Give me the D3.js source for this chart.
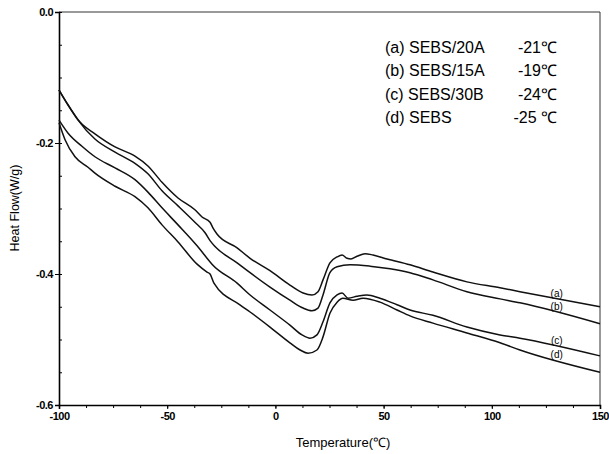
<!DOCTYPE html>
<meta charset="utf-8">
<script src="https://d3js.org/d3.v7.min.js"></script>
<style>
  body { margin: 0; background: #fff; }
  text { font-family: "Liberation Sans", Arial, sans-serif; }
</style>
<body>
<div id="my_dataviz"></div>
<script>
// DSC curves: [temperature (C), heat flow (W/g)]
const curveA = [[-100,-0.119],[-95.8,-0.142],[-90.3,-0.168],[-83.4,-0.186],[-74.1,-0.206],[-64.9,-0.220],
  [-58.9,-0.235],[-52.4,-0.260],[-45.0,-0.284],[-37.2,-0.302],[-33.9,-0.313],[-30.2,-0.321],[-28.8,-0.330],
  [-27.0,-0.339],[-17.7,-0.360],[-11.7,-0.376],[-2.5,-0.395],[6.7,-0.417],[12.8,-0.429],[16.9,-0.432],
  [19.7,-0.427],[22.0,-0.409],[25.2,-0.383],[28.5,-0.374],[30.8,-0.371],[33.1,-0.376],[34.9,-0.377],
  [37.7,-0.373],[41.4,-0.369],[45.1,-0.371],[51.6,-0.377],[62.2,-0.386],[72.8,-0.397],[88.5,-0.412],
  [103.8,-0.421],[113.0,-0.427],[150,-0.450]];
const curveB = [[-100,-0.119],[-95.8,-0.142],[-91.2,-0.165],[-83.4,-0.194],[-74.1,-0.214],[-64.9,-0.231],
  [-58.9,-0.247],[-52.4,-0.273],[-45.0,-0.296],[-37.2,-0.321],[-32.5,-0.337],[-30.2,-0.349],[-27.9,-0.358],
  [-17.7,-0.383],[-11.7,-0.398],[-2.5,-0.420],[6.7,-0.440],[12.8,-0.452],[16.9,-0.456],[19.7,-0.452],
  [22.0,-0.432],[25.2,-0.398],[28.5,-0.389],[34.5,-0.386],[43.7,-0.388],[53.0,-0.392],[62.2,-0.398],
  [72.8,-0.409],[88.5,-0.427],[103.8,-0.438],[113.0,-0.444],[150,-0.476]];
const curveC = [[-100,-0.165],[-95.8,-0.185],[-89.4,-0.205],[-83.4,-0.221],[-74.1,-0.238],[-64.9,-0.256],
  [-58.9,-0.275],[-52.4,-0.299],[-45.0,-0.325],[-36.2,-0.357],[-33.5,-0.368],[-31.6,-0.376],[-29.3,-0.385],
  [-17.7,-0.414],[-11.7,-0.432],[-2.5,-0.455],[6.7,-0.478],[12.3,-0.493],[16.0,-0.498],[19.2,-0.493],
  [22.0,-0.473],[25.2,-0.444],[28.5,-0.432],[30.8,-0.429],[33.6,-0.437],[37.7,-0.434],[42.3,-0.432],
  [48.3,-0.437],[56.2,-0.447],[62.2,-0.455],[72.8,-0.463],[88.5,-0.481],[103.8,-0.493],[113.0,-0.498],
  [150,-0.525]];
const curveD = [[-100,-0.169],[-97.2,-0.195],[-92.6,-0.221],[-86.6,-0.237],[-83.4,-0.246],[-74.1,-0.266],
  [-64.9,-0.282],[-58.9,-0.299],[-52.4,-0.325],[-45.0,-0.351],[-36.2,-0.385],[-31.6,-0.397],[-30.2,-0.400],
  [-28.4,-0.414],[-16.4,-0.447],[-11.7,-0.458],[-2.5,-0.481],[6.7,-0.505],[11.4,-0.516],[15.1,-0.521],
  [19.2,-0.516],[22.0,-0.496],[25.2,-0.460],[28.5,-0.443],[31.2,-0.437],[35.9,-0.440],[40.5,-0.437],
  [48.3,-0.443],[56.2,-0.455],[62.2,-0.464],[72.8,-0.475],[88.5,-0.490],[103.8,-0.505],[113.0,-0.516],
  [150,-0.550]];

const curveTags = ["(a)", "(b)", "(c)", "(d)"];
const legendNames = ["(a) SEBS/20A", "(b) SEBS/15A", "(c) SEBS/30B", "(d) SEBS"];
const legendTemps = ["-21\u2103", "-19\u2103", "-24\u2103", "-25 \u2103"];
const xTicks = [-100, -50, 0, 50, 100, 150];
const yTicks = [0, -0.2, -0.4, -0.6];
const tagAt = 130; // temperature where the (a)..(d) tags sit

// set the dimensions and margins of the graph
const margin = {top: 12, right: 9, bottom: 49, left: 59},
  width = 609 - margin.left - margin.right,
  height = 454 - margin.top - margin.bottom;

const svg = d3.select("#my_dataviz")
  .append("svg")
  .attr("width", width + margin.left + margin.right)
  .attr("height", height + margin.top + margin.bottom)
  .append("g")
  .attr("transform", `translate(${margin.left},${margin.top})`);

const x = d3.scaleLinear().domain([-100, 150]).range([0, width]);
const y = d3.scaleLinear().domain([-0.6, 0]).range([height, 0]);

// frame (top and right)
svg.append("path")
  .attr("d", `M0,0H${width}V${height}`)
  .attr("fill", "none")
  .attr("stroke", "#333")
  .attr("stroke-width", 1);

// minor ticks
svg.append("g")
  .attr("transform", `translate(0,${height})`)
  .call(d3.axisBottom(x).tickValues(d3.range(-100, 150.1, 12.5)).tickSize(3).tickFormat(""))
  .call(g => g.select(".domain").remove());
svg.append("g")
  .call(d3.axisLeft(y).tickValues(d3.range(-0.6, 0.001, 0.05)).tickSize(-3).tickFormat(""))
  .call(g => g.select(".domain").remove());

// main axes
const xAxis = svg.append("g")
  .attr("transform", `translate(0,${height})`)
  .call(d3.axisBottom(x).tickValues(xTicks).tickSize(4).tickPadding(3).tickFormat(d => String(d)));
const yAxis = svg.append("g")
  .call(d3.axisLeft(y).tickValues(yTicks).tickSize(4).tickPadding(2).tickFormat(d => d.toFixed(1)));

[xAxis, yAxis].forEach(a => {
  a.select(".domain").attr("stroke-width", 1.6);
  a.selectAll("text")
    .attr("fill", "#000")
    .style("font-size", "11px")
    .style("font-weight", "bold")
    .style("letter-spacing", "-0.5px");
});

// curves
const line = d3.line()
  .x(d => x(d[0]))
  .y(d => y(d[1]))
  .curve(d3.curveMonotoneX);

const curves = [curveA, curveB, curveC, curveD];
svg.selectAll(".curve")
  .data(curves)
  .enter()
  .append("path")
    .attr("class", "curve")
    .attr("d", line)
    .attr("fill", "none")
    .attr("stroke", "#111")
    .attr("stroke-width", 1.5);

// value of a curve at a given temperature (linear between read points)
function valueAt(d, t) {
  const i = d3.bisector(p => p[0]).left(d, t);
  const p0 = d[i - 1], p1 = d[i];
  return p0[1] + (p1[1] - p0[1]) * (t - p0[0]) / (p1[0] - p0[0]);
}

// small tags near the right end of the curves
svg.selectAll(".tag")
  .data(curves)
  .enter()
  .append("text")
    .attr("class", "tag")
    .attr("x", x(tagAt))
    .attr("y", d => y(valueAt(d, tagAt)) - 2)
    .attr("text-anchor", "middle")
    .style("font-size", "10px")
    .text((d, i) => curveTags[i]);

// legend
const legend = svg.append("g");
legendNames.forEach((n, i) => {
  legend.append("text")
    .attr("x", 385 - margin.left)
    .attr("y", 53 - margin.top + i * 23.3)
    .style("font-size", "16px")
    .text(n);
  legend.append("text")
    .attr("x", 557 - margin.left)
    .attr("y", 53 - margin.top + i * 23.3)
    .attr("text-anchor", "end")
    .style("font-size", "16px")
    .text(legendTemps[i]);
});

// axis titles
svg.append("text")
  .attr("x", 343 - margin.left)
  .attr("y", height + 42)
  .attr("text-anchor", "middle")
  .style("font-size", "13px")
  .text("Temperature(\u2103)");

svg.append("text")
  .attr("transform", `translate(${19 - margin.left},${208 - margin.top}) rotate(-90)`)
  .attr("text-anchor", "middle")
  .style("font-size", "12.5px")
  .text("Heat Flow(W/g)");
</script>
</body>
</html>
